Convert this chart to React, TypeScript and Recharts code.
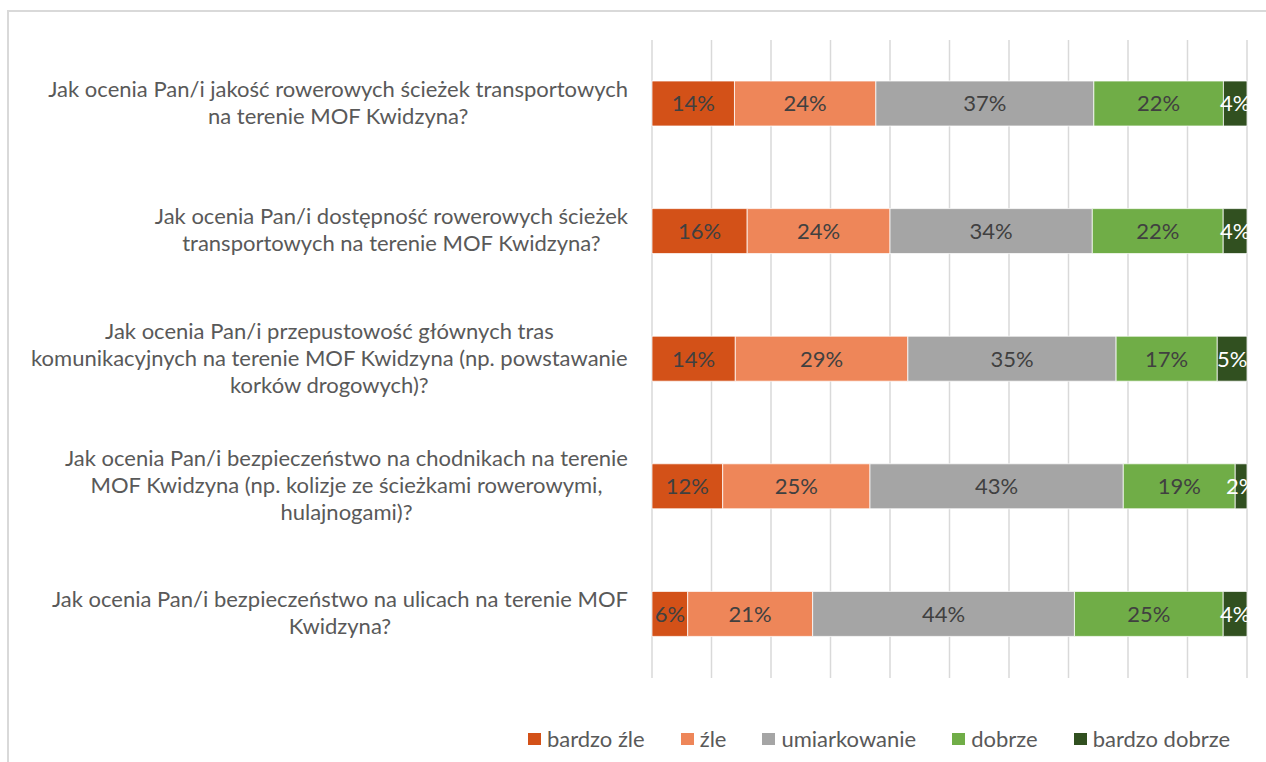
import React from 'react';
import { BarChart, Bar, XAxis, YAxis, CartesianGrid, LabelList } from 'recharts';

const categories = ['q1', 'q2', 'q3', 'q4', 'q5'];
const categoryLines: string[][] = [
  ['Jak ocenia Pan/i jakość rowerowych ścieżek transportowych', 'na terenie MOF Kwidzyna?'],
  ['Jak ocenia Pan/i dostępność rowerowych ścieżek', 'transportowych na terenie MOF Kwidzyna?'],
  ['Jak ocenia Pan/i przepustowość głównych tras', 'komunikacyjnych na terenie MOF Kwidzyna (np. powstawanie', 'korków drogowych)?'],
  ['Jak ocenia Pan/i bezpieczeństwo na chodnikach na terenie', 'MOF Kwidzyna (np. kolizje ze ścieżkami rowerowymi,', 'hulajnogami)?'],
  ['Jak ocenia Pan/i bezpieczeństwo na ulicach na terenie MOF', 'Kwidzyna?'],
];

const seriesNames = ['bardzo źle', 'źle', 'umiarkowanie', 'dobrze', 'bardzo dobrze'];
const seriesKeys = ['bz', 'z', 'u', 'd', 'bd'];
const seriesColors = ['#D35118', '#EE8659', '#A5A5A5', '#70AD47', '#315020'];
const labelColors = ['#404040', '#404040', '#404040', '#404040', '#FFFFFF'];

const bardzoZle = [14, 16, 14, 12, 6];
const zle = [24, 24, 29, 25, 21];
const umiarkowanie = [37, 34, 35, 43, 44];
const dobrze = [22, 22, 17, 19, 25];
const bardzoDobrze = [4, 4, 5, 2, 4];

const xTicks = [0, 0.1, 0.2, 0.3, 0.4, 0.5, 0.6, 0.7, 0.8, 0.9, 1];

const data = categories.map((c, i) => ({
  name: c,
  bz: bardzoZle[i],
  z: zle[i],
  u: umiarkowanie[i],
  d: dobrze[i],
  bd: bardzoDobrze[i],
}));

const FONT = 'Lato, "Noto Sans", sans-serif';
const CAT_SIZE = 22;
const LABEL_SIZE = 22;
const LINE_H = 27;

let ctx: CanvasRenderingContext2D | null = null;
function measure(text: string, size: number) {
  if (!ctx) {
    const c = document.createElement('canvas');
    ctx = c.getContext('2d');
  }
  if (!ctx) return text.length * size * 0.5;
  ctx.font = `${size}px Lato`;
  return ctx.measureText(text).width;
}

const EmptyTick = () => <g />;

const CategoryTick = (props: any) => {
  const { y, payload, index } = props;
  const idx = typeof index === 'number' ? index : categories.indexOf(payload.value);
  const lines = categoryLines[idx] || [String(payload.value)];
  const maxW = Math.max(...lines.map((l) => measure(l, CAT_SIZE)));
  const right = 628;
  const cx = right - maxW / 2;
  const n = lines.length;
  return (
    <g>
      {lines.map((l, i) => (
        <text
          key={i}
          x={cx}
          y={y + (i - (n - 1) / 2) * LINE_H - 2}
          textAnchor="middle"
          dominantBaseline="central"
          fontFamily={FONT}
          fontSize={CAT_SIZE}
          fill="#595959"
        >
          {l}
        </text>
      ))}
    </g>
  );
};

export default function App() {
  return (
    <div style={{ position: 'absolute', left: 0, top: 0, width: 1266, height: 762, overflow: 'hidden', background: '#fff' }}>
      <div
        style={{
          position: 'absolute',
          left: 7,
          top: 10,
          width: 1259,
          height: 752,
          borderLeft: '2px solid #D9D9D9',
          borderTop: '2px solid #D9D9D9',
          boxSizing: 'border-box',
        }}
      />
      <div style={{ position: 'absolute', left: 0, top: 0 }}>
        <BarChart
          width={1266}
          height={762}
          data={data}
          layout="vertical"
          stackOffset="expand"
          barSize={45}
          margin={{ top: 40, right: 19, bottom: 84, left: 0 }}
        >
          <CartesianGrid horizontal={false} vertical={true} stroke="#D9D9D9" strokeWidth={1.5} />
          <XAxis
            type="number"
            domain={[0, 1]}
            ticks={xTicks}
            interval={0}
            tick={<EmptyTick />}
            axisLine={false}
            tickLine={false}
            height={0}
          />
          <YAxis
            type="category"
            dataKey="name"
            width={652}
            axisLine={false}
            tickLine={false}
            tick={<CategoryTick />}
            interval={0}
          />
          {seriesKeys.map((k, si) => (
            <Bar
              key={k}
              dataKey={k}
              name={seriesNames[si]}
              stackId="a"
              fill={seriesColors[si]}
              stroke="#FFFFFF"
              strokeWidth={0.75}
              isAnimationActive={false}
            >
              <LabelList
                dataKey={k}
                position="center"
                formatter={(v: any) => `${v}%`}
                fill={labelColors[si]}
                fontFamily={FONT}
                fontSize={LABEL_SIZE}
              />
            </Bar>
          ))}
        </BarChart>
      </div>
      <div
        style={{
          position: 'absolute',
          left: 0,
          width: 1758,
          top: 727,
          display: 'flex',
          justifyContent: 'center',
          gap: 36,
          fontFamily: FONT,
          fontSize: 22,
          color: '#595959',
          lineHeight: '24px',
        }}
      >
        {seriesNames.map((n, i) => (
          <div key={n} style={{ display: 'flex', alignItems: 'center' }}>
            <span style={{ display: 'inline-block', width: 13, height: 12, background: seriesColors[i], marginRight: 6 }} />
            <span>{n}</span>
          </div>
        ))}
      </div>
    </div>
  );
}
